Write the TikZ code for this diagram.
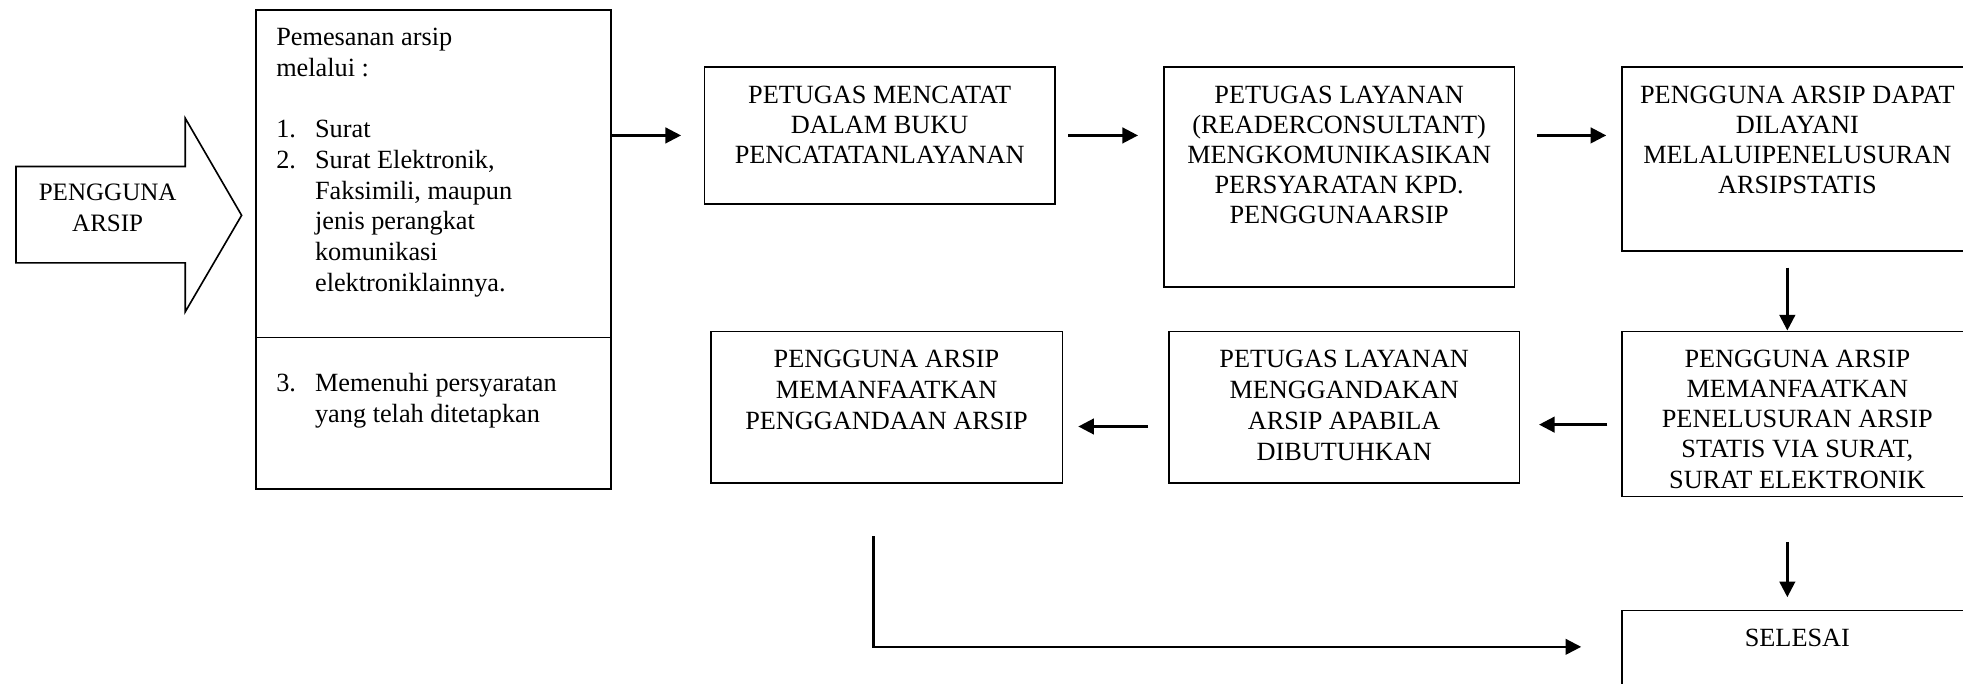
\documentclass[tikz,border=0pt]{standalone}
\usepackage{fontspec}
\setmainfont{Liberation Serif}
\usetikzlibrary{calc,arrows.meta}
% #1 width, #2 height, #3 baselineskip, #4 first baseline, #5 text
\newcommand\cbox[5]{\parbox[t][#2pt][t]{#1pt}{\centering\fontsize{21pt}{#3pt}\selectfont\rule{0pt}{#4pt}#5}}
\newcommand\lbox[4]{\parbox[t][#2pt][t]{#1pt}{\raggedright\leftskip=16pt\fontsize{21pt}{24.5pt}\selectfont\rule{0pt}{#3pt}#4}}
\newcommand\num[1]{\makebox[31pt][l]{#1}}
\begin{document}
\begin{tikzpicture}[x=1pt,y=-1pt,
  box/.style={draw, line width=1.35pt, inner sep=0pt, anchor=north west},
  arr/.style={line width=2pt, -{Triangle[length=12.5pt,width=12.5pt]}},
  bigarrow/.style={draw, line width=1.3pt, line join=miter}]
\useasboundingbox (0,0) rectangle (1568,546);
\clip (0,0) rectangle (1568,546);

% block arrow
\draw[bigarrow] (12.8,133) -- (148,133) -- (148,94.5) -- (193,172) -- (148,249) -- (148,210) -- (12.8,210) -- cycle;
\node[align=center, inner sep=0pt, font=\fontsize{20pt}{24pt}\selectfont] (user) at (86,166) {PENGGUNA\\ARSIP};

% box 1
\node[box] (b1a) at (204,7.5) {\lbox{283.5}{261.5}{28.5}{Pemesanan arsip\\melalui :\\[24.5pt]\num{1.}Surat\\\num{2.}Surat Elektronik,\\\hspace*{31pt}Faksimili, maupun\\\hspace*{31pt}jenis perangkat\\\hspace*{31pt}komunikasi\\\hspace*{31pt}elektroniklainnya.}};
\node[box] (b1b) at (204,269) {\lbox{283.5}{121}{43}{\num{3.}Memenuhi persyaratan\\\hspace*{31pt}yang telah ditetapkan}};

% top row
\node[box] (b2) at (562,53) {\cbox{280}{109}{24}{29}{PETUGAS MENCATAT\\DALAM BUKU\\PENCATATANLAYANAN}};
\node[box] (b3) at (929,53) {\cbox{280}{175.5}{24}{29}{PETUGAS LAYANAN\\(READERCONSULTANT)\\MENGKOMUNIKASIKAN\\PERSYARATAN KPD.\\PENGGUNAARSIP}};
\node[box] (b4) at (1295,53) {\cbox{280}{147}{24}{29}{PENGGUNA ARSIP DAPAT\\DILAYANI\\MELALUIPENELUSURAN\\ARSIPSTATIS}};

% second row
\node[box] (b5) at (1295,264) {\cbox{280}{132}{24.2}{28.5}{PENGGUNA ARSIP\\MEMANFAATKAN\\PENELUSURAN ARSIP\\STATIS VIA SURAT,\\SURAT ELEKTRONIK}};
\node[box] (b6) at (933,264) {\cbox{280}{121}{24.7}{29}{PETUGAS LAYANAN\\MENGGANDAKAN\\ARSIP APABILA\\DIBUTUHKAN}};
\node[box] (b7) at (567,264) {\cbox{281}{121}{24.7}{29}{PENGGUNA ARSIP\\MEMANFAATKAN\\PENGGANDAAN ARSIP}};

% end
\node[box] (sel) at (1295,487) {\cbox{280}{64}{24}{29}{SELESAI}};

% connectors
\draw[arr, shorten >=18pt] (b1a.east |- b2.west) -- (b2.west);
\draw[arr, shorten <=10pt, shorten >=20pt] (b2.east) -- (b2.east -| b3.west);
\draw[arr, shorten <=17pt, shorten >=12pt] (b3.east |- b2.east) -- (b4.west |- b2.east);
\draw[arr, shorten <=12.5pt] ($(b4.south)+(-8,0)$) -- ($(b5.north)+(-8,0)$);
\draw[arr, shorten <=11pt, shorten >=15pt] ($(b5.west)+(0,8.5)$) -- ($(b6.east)+(0,14)$);
\draw[arr, shorten <=16pt, shorten >=12pt] ($(b6.west)+(0,15.5)$) -- ($(b7.east)+(0,15.5)$);
\draw[arr, shorten <=35.5pt, shorten >=10pt] ($(b5.south)+(-8,0)$) -- ($(sel.north)+(-8,0)$);
\draw[arr, line width=1.7pt, shorten >=32pt] ($(b7.south)+(-10.5,42)$) |- ($(sel.west)+(0,-3)$);
\end{tikzpicture}
\end{document}
